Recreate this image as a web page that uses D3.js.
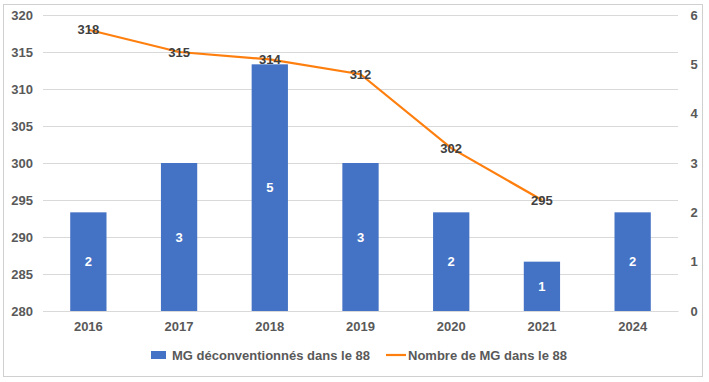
<!DOCTYPE html>
<html><head><meta charset="utf-8">
<script src="https://cdn.jsdelivr.net/npm/d3@7"></script>
<style>body{margin:0;background:#fff;}svg{display:block;font-family:"Liberation Sans",Arial,sans-serif;}</style>
</head><body><svg id="c" width="709" height="382"></svg>
<script>
const categories = ["2016","2017","2018","2019","2020","2021","2024"];
const barValues = [2,3,5,3,2,1,2];
const lineValues = [318,315,314,312,302,295,null];
const leftTicks = [280,285,290,295,300,305,310,315,320];
const rightTicks = [0,1,2,3,4,5,6];
const barName = "MG déconventionnés dans le 88";
const lineName = "Nombre de MG dans le 88";

const svg = d3.select("#c");
const m = {l:43, r:678, t:15, b:311};
const x = d3.scaleBand().domain(categories).range([m.l,m.r]).paddingInner(0.6).paddingOuter(0.3);
const yL = d3.scaleLinear().domain([280,320]).range([m.b,m.t]);
const yR = d3.scaleLinear().domain([0,6]).range([m.b,m.t]);
const txt = "#595959";

// outer border
svg.append("rect").attr("x",3.5).attr("y",4.5).attr("width",699).attr("height",372).attr("fill","none").attr("stroke","#d0d0d0");

// gridlines
svg.append("g").selectAll("line").data(leftTicks).join("line")
  .attr("x1",m.l).attr("x2",m.r).attr("y1",d=>Math.round(yL(d))+0.5).attr("y2",d=>Math.round(yL(d))+0.5)
  .attr("stroke","#d9d9d9").attr("stroke-width",1);

// left axis
const gl = svg.append("g").attr("transform",`translate(${m.l-10},0)`).call(d3.axisLeft(yL).tickValues(leftTicks).tickSize(0).tickPadding(0));
gl.select(".domain").remove();
gl.selectAll("text").attr("fill",txt).style("font-size","13px").style("font-weight","bold");

// right axis
const gr = svg.append("g").attr("transform",`translate(${m.r+16},0)`).call(d3.axisRight(yR).tickValues(rightTicks).tickFormat(d3.format("d")).tickSize(0).tickPadding(0));
gr.select(".domain").remove();
gr.selectAll("text").attr("fill",txt).style("font-size","13px").style("font-weight","bold").attr("text-anchor","middle");

// bottom axis
const gb = svg.append("g").attr("transform",`translate(0,${m.b})`).call(d3.axisBottom(x).tickSize(0).tickPadding(11));
gb.select(".domain").attr("stroke","#d9d9d9");
gb.selectAll("text").attr("fill",txt).style("font-size","13px").style("font-weight","bold");

// bars
svg.append("g").selectAll("rect").data(categories).join("rect")
  .attr("x",d=>x(d)).attr("width",x.bandwidth())
  .attr("y",(d,i)=>yR(barValues[i])).attr("height",(d,i)=>m.b-yR(barValues[i]))
  .attr("fill","#4472c4");
svg.append("g").selectAll("text").data(categories).join("text")
  .attr("x",d=>x(d)+x.bandwidth()/2).attr("y",(d,i)=>(yR(barValues[i])+m.b)/2)
  .attr("text-anchor","middle").attr("dy","0.35em").attr("fill","#fff")
  .style("font-size","13px").style("font-weight","bold").text((d,i)=>barValues[i]);

// line
const pts = categories.map((c,i)=>({c,v:lineValues[i]})).filter(d=>d.v!=null);
const line = d3.line().x(d=>x(d.c)+x.bandwidth()/2).y(d=>yL(d.v));
svg.append("path").datum(pts).attr("d",line).attr("fill","none").attr("stroke","#ff7f0e").attr("stroke-width",2.2);
svg.append("g").selectAll("text").data(pts).join("text")
  .attr("x",d=>x(d.c)+x.bandwidth()/2).attr("y",d=>yL(d.v))
  .attr("text-anchor","middle").attr("dy","0.35em").attr("fill","#404040")
  .style("font-size","13px").style("font-weight","bold").text(d=>d.v);

// legend
const lg = svg.append("g").style("font-size","13px").style("font-weight","bold");
lg.append("rect").attr("x",151).attr("y",351).attr("width",15).attr("height",8).attr("fill","#4472c4");
lg.append("text").attr("x",172).attr("y",355).attr("dy","0.35em").attr("fill",txt).text(barName);
lg.append("line").attr("x1",386).attr("x2",406).attr("y1",355).attr("y2",355).attr("stroke","#ff7f0e").attr("stroke-width",2.2);
lg.append("text").attr("x",408).attr("y",355).attr("dy","0.35em").attr("fill",txt).text(lineName);
</script></body></html>
